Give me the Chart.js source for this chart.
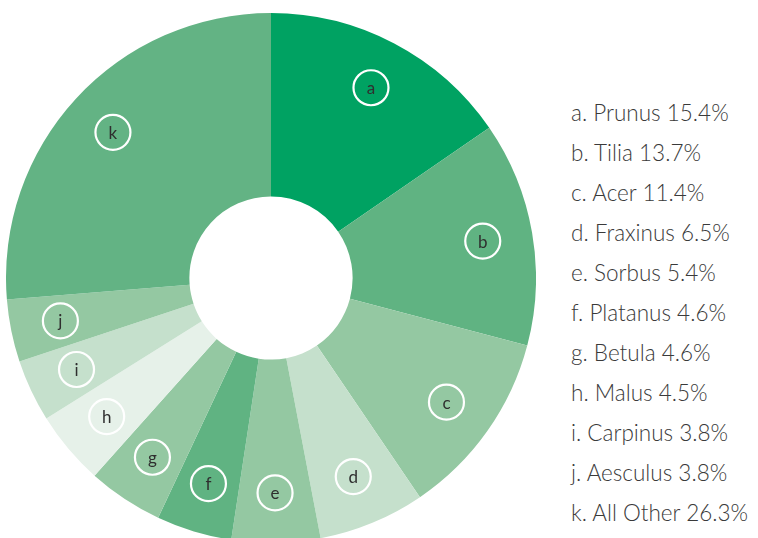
<!DOCTYPE html>
<html lang="en">
<head>
  <meta charset="UTF-8" />
  <title>Tree genera share</title>
  <style>
    html, body {
      margin: 0;
      padding: 0;
      width: 758px;
      height: 538px;
      overflow: hidden;
      background: white;
    }
    #chart-box {
      position: absolute;
      left: 6px;
      top: 13px;
      width: 530px;
      height: 530px;
    }
    #legend {
      position: absolute;
      left: 571px;
      top: 93px;
      margin: 0;
      padding: 0;
      list-style: none;
      font-family: Lato, "Open Sans", sans-serif;
      font-weight: 300;
      font-size: 22.5px;
      color: #3a3a3a;
    }
    #legend li {
      height: 40px;
      line-height: 40px;
      white-space: nowrap;
    }
  </style>
  <script src="https://cdn.jsdelivr.net/npm/chart.js"></script>
</head>
<body>
  <div id="chart-box">
    <canvas id="chart"></canvas>
  </div>
  <ul id="legend"></ul>

  <script>
    const letters = ['a', 'b', 'c', 'd', 'e', 'f', 'g', 'h', 'i', 'j', 'k'];
    const genera = ['Prunus', 'Tilia', 'Acer', 'Fraxinus', 'Sorbus', 'Platanus', 'Betula', 'Malus', 'Carpinus', 'Aesculus', 'All Other'];
    const shares = [15.4, 13.7, 11.4, 6.5, 5.4, 4.6, 4.6, 4.5, 3.8, 3.8, 26.3];
    const sliceColors = ['#00a262', '#60b382', '#94c8a2', '#c5e0cc', '#94c8a2', '#60b382', '#94c8a2', '#e6f1e9', '#c5e0cc', '#94c8a2', '#63b384'];

    // legend on the right, plain text
    const legend = document.getElementById('legend');
    letters.forEach((l, i) => {
      const li = document.createElement('li');
      li.textContent = `${l}. ${genera[i]} ${shares[i]}%`;
      legend.appendChild(li);
    });

    // circled letter inside every slice
    const letterBadges = {
      id: 'letterBadges',
      afterDatasetsDraw(chart) {
        const ctx = chart.ctx;
        const arcs = chart.getDatasetMeta(0).data;
        arcs.forEach((arc, i) => {
          const p = arc.getProps(['x', 'y', 'startAngle', 'endAngle', 'innerRadius', 'outerRadius'], true);
          const mid = (p.startAngle + p.endAngle) / 2;
          const r = p.innerRadius + 0.727 * (p.outerRadius - p.innerRadius);
          const cx = p.x + Math.cos(mid) * r;
          const cy = p.y + Math.sin(mid) * r;
          ctx.save();
          ctx.beginPath();
          ctx.arc(cx, cy, 17.5, 0, Math.PI * 2);
          ctx.lineWidth = 2.2;
          ctx.strokeStyle = '#ffffff';
          ctx.stroke();
          ctx.fillStyle = '#2f2f2f';
          ctx.font = '17px Lato, "Open Sans", sans-serif';
          ctx.textAlign = 'center';
          ctx.textBaseline = 'middle';
          ctx.fillText(letters[i], cx, cy + 1);
          ctx.restore();
        });
      }
    };

    const ctx = document.getElementById('chart').getContext('2d');
    new Chart(ctx, {
      type: 'doughnut',
      data: {
        labels: genera,
        datasets: [{
          data: shares,
          backgroundColor: sliceColors,
          borderWidth: 0
        }]
      },
      options: {
        responsive: true,
        maintainAspectRatio: false,
        animation: false,
        cutout: '30.8%',
        layout: { padding: 0 },
        plugins: {
          legend: { display: false },
          tooltip: { enabled: false }
        }
      },
      plugins: [letterBadges]
    });
  </script>
</body>
</html>
